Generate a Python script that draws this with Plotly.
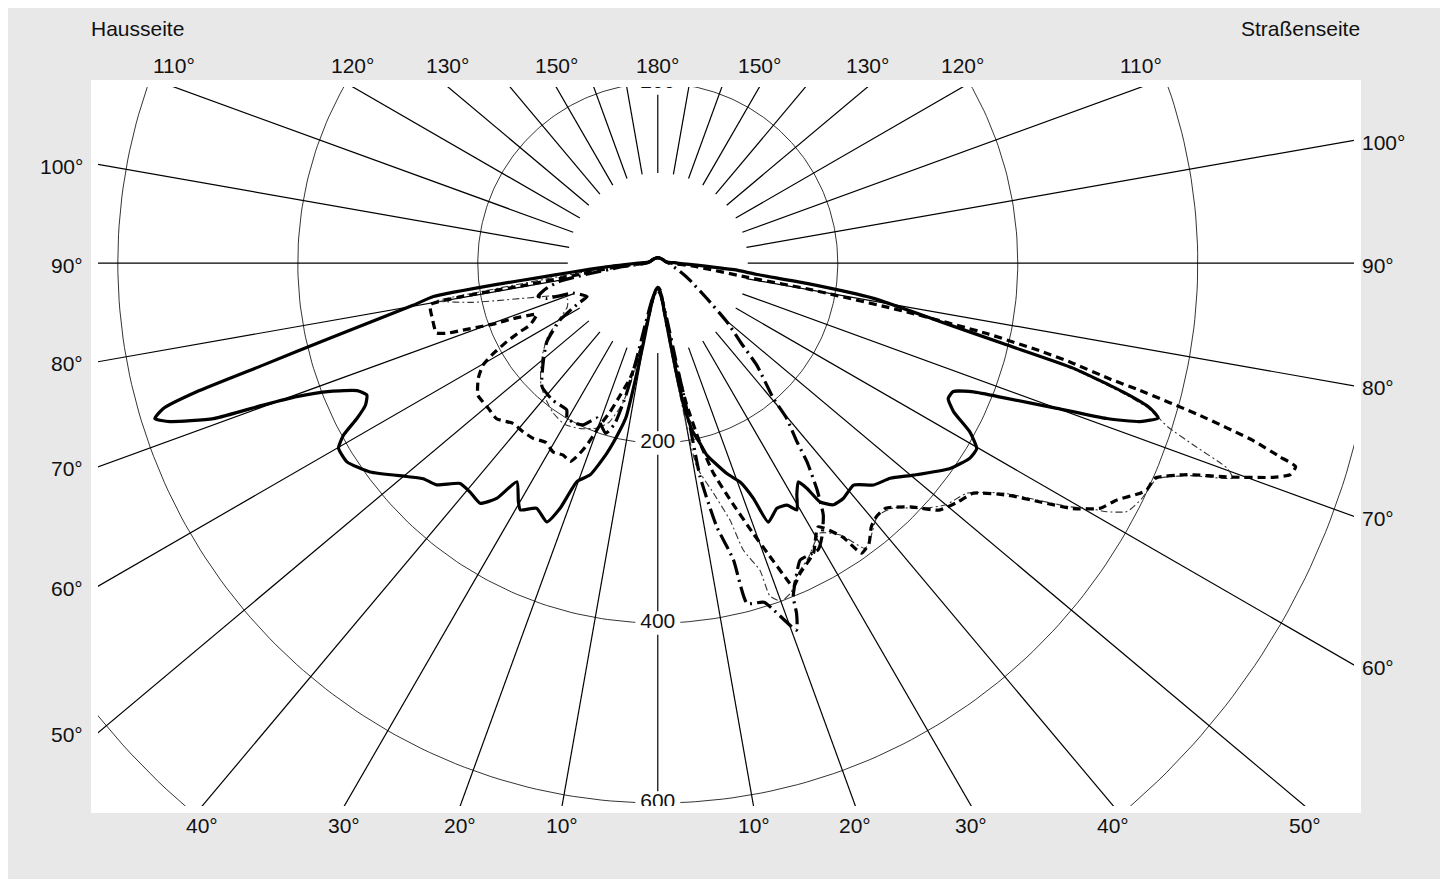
import math
import plotly.graph_objects as go

# ---------------- grid definition ----------------
GRID_ANGLES = list(range(0, 181, 10))          # radial lines (deg), both sides
RADIAL_START = 100                               # cd, radial lines start here
CIRCLE_RADII = [200, 400, 600, 800]              # cd
CIRCLE_LABELS = [("200", 180, 200), ("200", 0, 200), ("400", 0, 400), ("600", 0, 600)]
TICK_ANGLES = [10, 20, 30, 40, 50, 60, 70, 80, 90, 100, 110, 120, 130, 150]
TOP_ANGLE = 180
SIDE_LEFT = "Hausseite"
SIDE_RIGHT = "Straßenseite"

# axis ranges in cd (0.9 px per cd)
X_RANGE = [-622.0, 773.6]
Y_RANGE = [-603.3, 195.6]

# ---------------- luminous intensity curves (gamma deg, cd) ----------------
# negative gamma = Hausseite (left), positive = Straßenseite (right)
solid_curve = [(-180, 6), (-150, 6), (-120, 7), (-100, 9), (-90, 22), (-86, 55), (-84, 95), (-83, 135),
               (-82.5, 175), (-81.5, 252), (-80.2, 276), (-77.1, 374), (-75.5, 453), (-74.4, 532),
               (-73.6, 573), (-72.8, 585), (-72.0, 570), (-70.7, 523), (-70.2, 466), (-69.7, 428),
               (-68.6, 391), (-67.0, 363), (-65.6, 355), (-64.1, 361), (-62.7, 376), (-61.3, 398),
               (-59.9, 410), (-57.4, 410), (-54.0, 395), (-49.6, 366), (-47.4, 354), (-44.9, 348),
               (-41.9, 329), (-39.4, 329), (-36.5, 332), (-34.4, 317), (-32.8, 289), (-30.3, 307),
               (-29.1, 314), (-26.3, 304), (-23.2, 313), (-21.7, 293), (-20.3, 259), (-17.7, 247),
               (-15.0, 219), (-12.7, 190), (-11.6, 174), (-11.1, 147), (-10.7, 121), (-10.2, 91),
               (-9.3, 53), (-6, 33), (-3, 29), (0, 28), (3, 29), (6, 35), (8, 62), (9.5, 120),
               (10.3, 160), (11.6, 190), (13.2, 206), (14.3, 220), (18.3, 247), (20.6, 260),
               (22.1, 282), (23.1, 313), (25.9, 303), (28.1, 305), (29.4, 315), (31.0, 300),
               (32.7, 289), (33.5, 300), (34.2, 321), (36.0, 332), (38.3, 333), (41.4, 329),
               (44.2, 344), (47.2, 352), (50.3, 369), (54.9, 397), (58.0, 409), (59.8, 410),
               (61.6, 394), (63.3, 368), (65.0, 356), (66.5, 358), (67.8, 379), (68.8, 416),
               (70.0, 472), (70.9, 528), (71.8, 564), (72.8, 582), (73.6, 570), (74.5, 537),
               (75.8, 476), (76.8, 398), (78.3, 320), (80.7, 243), (82.2, 167), (83.5, 110),
               (85, 85), (90, 22), (100, 9), (120, 7), (150, 6), (180, 6)]

dashed_curve = [(-180, 6), (-150, 6), (-120, 7), (-100, 9), (-90, 14), (-85, 45), (-81.5, 95),
                (-80.5, 150), (-80.4, 195), (-80.2, 230), (-79.6, 257), (-75.8, 258), (-72.5, 258),
                (-71.6, 247), (-71.0, 229), (-70.3, 210), (-69.5, 191), (-69.0, 172), (-67.8, 153),
                (-67.0, 146), (-64.1, 158), (-63.5, 171), (-62.5, 189), (-61.2, 208), (-59.7, 225),
                (-57.3, 237), (-53.7, 248), (-49.4, 248), (-46.0, 249), (-42.0, 240), (-38.5, 240),
                (-35.4, 239), (-32.0, 235), (-29.0, 240), (-26.2, 238), (-23.8, 241), (-22.5, 231),
                (-21.3, 217), (-20.5, 205), (-19.6, 191), (-17.8, 174), (-15.9, 153), (-13.5, 132),
                (-11.3, 100), (-10, 67), (-7, 35), (0, 27), (5, 30), (8, 60), (10, 110), (11.5, 160),
                (13.2, 205), (14.8, 241), (17.0, 275), (19.4, 318), (20.7, 344), (22.2, 380),
                (22.7, 390), (24.7, 379), (28.2, 366), (31.3, 343), (34.0, 367), (35.1, 394),
                (37.0, 390), (39.0, 377), (40.8, 372), (42.9, 372), (46.0, 390), (48.7, 416),
                (51.4, 426), (53.9, 434), (56.4, 466), (58.0, 501), (59.4, 536), (61.0, 562),
                (62.7, 574), (64.5, 594), (65.1, 599), (66.6, 602), (68.2, 633), (69.5, 679),
                (70.8, 724), (71.5, 741), (72.3, 744), (72.7, 724), (73.4, 690), (74.3, 626),
                (75.2, 554), (75.6, 520), (76.5, 471), (77.0, 440), (77.9, 374), (78.9, 282),
                (80.2, 168), (81, 100), (85, 40), (90, 14), (100, 9), (120, 7), (150, 6), (180, 6)]

dashdot_curve = [(-180, 6), (-150, 6), (-120, 7), (-100, 9), (-90, 12), (-84, 40), (-81, 80),
                 (-79.5, 110), (-77, 128), (-74.5, 138), (-72.4, 130), (-71.5, 115), (-70.5, 100),
                 (-64.6, 87), (-63.1, 99), (-59.7, 126), (-54.7, 151), (-50.2, 165), (-43.2, 188),
                 (-37.4, 192), (-31.8, 192), (-30.3, 200), (-27.0, 200), (-24.7, 198), (-21.4, 185),
                 (-19.8, 189), (-17.0, 198), (-15.0, 185), (-13.5, 150), (-12.5, 110), (-11.5, 70),
                 (-9, 42), (-4, 32), (0, 30), (5, 35), (9, 60), (10.5, 110), (11.2, 166),
                 (11.2, 242), (12.6, 300), (14.3, 340), (14.7, 391), (17.4, 395), (20.7, 436),
                 (21.6, 419), (22.1, 400), (24.1, 378), (25.6, 366), (29.2, 365), (30.9, 355),
                 (33.3, 335), (35.2, 306), (36.9, 276), (37.9, 252), (39.7, 224), (40.5, 198),
                 (44.1, 158), (46.3, 127), (49.6, 101), (54.2, 67), (62, 40), (68.7, 27),
                 (90, 12), (100, 9), (120, 7), (150, 6), (180, 6)]

thin_curve = [(-180, 6), (-150, 6), (-120, 7), (-100, 9), (-90, 14), (-85, 50), (-82, 120),
              (-80.8, 200), (-80.3, 250), (-78, 210), (-75, 150), (-72, 118), (-68, 108),
              (-64, 112), (-60, 128), (-56, 148), (-52, 162), (-48, 175), (-44, 187), (-40, 195),
              (-35, 203), (-30, 207), (-25, 203), (-20, 195), (-17, 185), (-14, 160), (-12, 120),
              (-10, 75), (-6, 38), (0, 28), (5, 40), (9, 120), (10.8, 230), (13.6, 263),
              (15.7, 297), (16.6, 333), (18.4, 360), (18.6, 390), (20, 400), (22, 395), (24, 380),
              (27, 368), (31, 350), (34, 365), (36, 392), (38, 385), (41, 372), (44, 378),
              (47, 400), (50, 418), (53.3, 428), (56.4, 462), (58, 497), (59.4, 532), (60.4, 552),
              (61.0, 570), (62.1, 590), (64, 598), (66.6, 604), (68.2, 636), (69.5, 682),
              (70.2, 672), (71.2, 630), (72.2, 595), (72.8, 583), (73.6, 566), (74.5, 531),
              (75.8, 470), (76.8, 394), (78.3, 316), (80.7, 240), (82.2, 160), (85, 82), (90, 14),
              (100, 9), (120, 7), (150, 6), (180, 6)]


def to_xy(gamma_deg, cd):
    r = math.radians(gamma_deg)
    return cd * math.sin(r), -cd * math.cos(r)


def curve_xy(pairs):
    xs, ys = [], []
    for g, i in pairs:
        x, y = to_xy(g, i)
        xs.append(x)
        ys.append(y)
    return xs, ys


fig = go.Figure()

# circles
cx, cy = [], []
for rad in CIRCLE_RADII:
    for k in range(0, 361):
        x, y = to_xy(k, rad)
        cx.append(x)
        cy.append(y)
    cx.append(None)
    cy.append(None)
fig.add_trace(go.Scatter(x=cx, y=cy, mode="lines", line=dict(color="#000", width=0.8),
                         hoverinfo="skip"))

# radial lines
rx, ry = [], []
for a in GRID_ANGLES:
    sides = [1] if a in (0, 180) else [-1, 1]
    for s in sides:
        x0, y0 = to_xy(s * a, RADIAL_START)
        x1, y1 = to_xy(s * a, 1600)
        rx += [x0, x1, None]
        ry += [y0, y1, None]
fig.add_trace(go.Scatter(x=rx, y=ry, mode="lines", line=dict(color="#000", width=1.2),
                         hoverinfo="skip"))

# white boxes behind circle labels
BOX_HW, BOX_HH = 25, 13
for txt, g, rad in CIRCLE_LABELS:
    x, y = to_xy(g, rad)
    fig.add_trace(go.Scatter(x=[x - BOX_HW, x + BOX_HW, x + BOX_HW, x - BOX_HW, x - BOX_HW],
                             y=[y - BOX_HH, y - BOX_HH, y + BOX_HH, y + BOX_HH, y - BOX_HH],
                             mode="lines", fill="toself", fillcolor="white",
                             line=dict(width=0, color="white"), hoverinfo="skip"))
lx, ly, lt = [], [], []
for txt, g, rad in CIRCLE_LABELS:
    x, y = to_xy(g, rad)
    lx.append(x)
    ly.append(y)
    lt.append(txt)
fig.add_trace(go.Scatter(x=lx, y=ly, text=lt, mode="text", cliponaxis=True,
                         textposition="middle center",
                         textfont=dict(size=21, color="#111", family="Liberation Sans, Arial"),
                         hoverinfo="skip"))

# curves
SMOOTH = 0.5
tx, ty = curve_xy(thin_curve)
fig.add_trace(go.Scatter(x=tx, y=ty, mode="lines",
                         line=dict(color="#333", width=1.1, dash="7px,3px,2px,3px",
                                   shape="spline", smoothing=SMOOTH), hoverinfo="skip"))
dx_, dy_ = curve_xy(dashdot_curve)
fig.add_trace(go.Scatter(x=dx_, y=dy_, mode="lines",
                         line=dict(color="#000", width=3.2, dash="16px,5px,2px,5px",
                                   shape="spline", smoothing=SMOOTH), hoverinfo="skip"))
bx, by = curve_xy(dashed_curve)
fig.add_trace(go.Scatter(x=bx, y=by, mode="lines",
                         line=dict(color="#000", width=3.2, dash="8px,5px",
                                   shape="spline", smoothing=SMOOTH), hoverinfo="skip"))
sx, sy = curve_xy(solid_curve)
fig.add_trace(go.Scatter(x=sx, y=sy, mode="lines",
                         line=dict(color="#000", width=3.2, shape="spline", smoothing=SMOOTH),
                         hoverinfo="skip"))

# angle labels at the plot border
W = X_RANGE[1] - X_RANGE[0]
H = Y_RANGE[1] - Y_RANGE[0]
FONT = dict(size=21, color="#111", family="Liberation Sans, Arial")
PLOT_W, PLOT_H = 1256, 719


def exit_point(g):
    r = math.radians(g)
    ddx, ddy = math.sin(r), -math.cos(r)
    cands = []
    if ddx > 1e-9:
        cands.append((X_RANGE[1] / ddx, "right"))
    if ddx < -1e-9:
        cands.append((X_RANGE[0] / ddx, "left"))
    if ddy > 1e-9:
        cands.append((Y_RANGE[1] / ddy, "top"))
    if ddy < -1e-9:
        cands.append((Y_RANGE[0] / ddy, "bottom"))
    t, edge = min(cands)
    return t * ddx, t * ddy, edge


annotations = []
label_list = [(s * a, f"{a}°") for a in TICK_ANGLES for s in (-1, 1)] + [(TOP_ANGLE, f"{TOP_ANGLE}°")]
for g, txt in label_list:
    x, y, edge = exit_point(g)
    px = (x - X_RANGE[0]) / W
    py = (y - Y_RANGE[0]) / H
    a = dict(x=px, y=py, xref="paper", yref="paper", text=txt, showarrow=False, font=FONT)
    if edge == "top":
        a.update(xanchor="center", yanchor="middle", yshift=22)
    elif edge == "bottom":
        a.update(xanchor="center", yanchor="middle", yshift=-19)
    elif edge == "left":
        a.update(xanchor="right", yanchor="middle", xshift=-13, yshift=-2)
    else:
        a.update(xanchor="left", yanchor="middle", xshift=6, yshift=-2)
    annotations.append(a)

annotations.append(dict(x=-7 / PLOT_W, y=1 + 59 / PLOT_H, xref="paper", yref="paper", text=SIDE_LEFT,
                        showarrow=False, xanchor="left", yanchor="middle", xshift=-2, font=FONT))
annotations.append(dict(x=1 + 6 / PLOT_W, y=1 + 59 / PLOT_H, xref="paper", yref="paper", text=SIDE_RIGHT,
                        showarrow=False, xanchor="right", yanchor="middle", xshift=2, font=FONT))

shapes = [
    dict(type="rect", xref="paper", yref="paper", x0=-7 / PLOT_W, x1=1 + 7 / PLOT_W,
         y0=-7 / PLOT_H, y1=1 + 7 / PLOT_H, fillcolor="white", line=dict(width=0), layer="below"),
]

fig.update_layout(
    width=1437, height=871,
    margin=dict(l=90, r=91, t=79, b=73, pad=0),
    paper_bgcolor="#e8e8e8", plot_bgcolor="white",
    showlegend=False,
    xaxis=dict(range=X_RANGE, visible=False, fixedrange=True),
    yaxis=dict(range=Y_RANGE, visible=False, fixedrange=True),
    annotations=annotations,
    shapes=shapes,
    font=FONT,
)

fig.write_html("out.html", config={"displayModeBar": False})
